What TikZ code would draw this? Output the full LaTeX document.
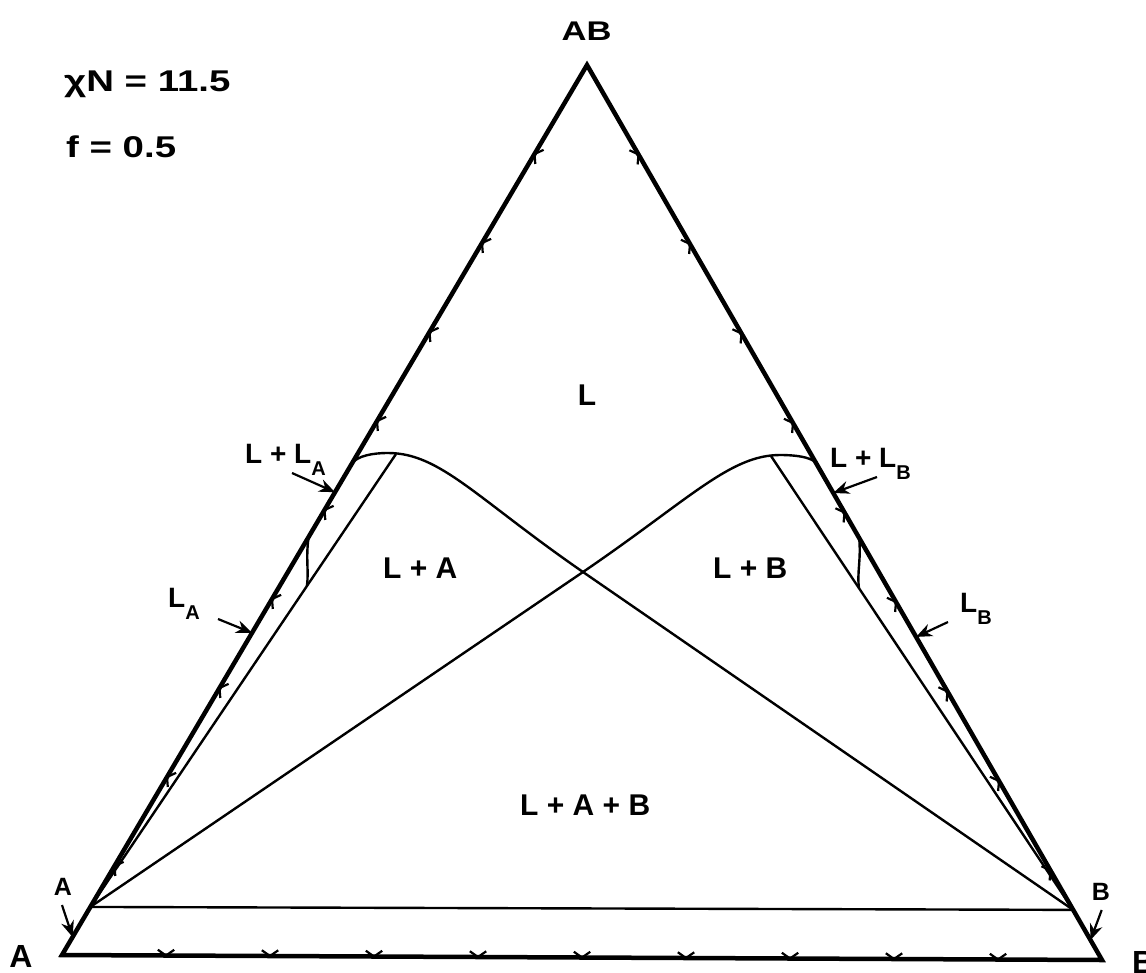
\documentclass[tikz,border=0pt]{standalone}
\usepackage{fontspec}
\setmainfont{Liberation Sans}
\newfontfamily\widefont[FakeStretch=1.28]{Liberation Sans}
\usetikzlibrary{calc,arrows.meta}
\newcommand\subl[1]{\raisebox{-12pt}{\fontsize{20}{20}\selectfont #1}}
\begin{document}
\begin{tikzpicture}[x=1pt,y=-1pt,
  edge/.style={line width=4.5pt, line join=miter},
  bound/.style={line width=2.4pt},
  tickmark/.style={line width=2.2pt},
  ptr/.style={line width=2.2pt,-{Stealth[length=16pt,width=13pt]}},
  lab/.style={inner sep=0pt, font=\fontsize{30}{30}\selectfont\bfseries},
  sublab/.style={inner sep=0pt, font=\fontsize{28}{28}\selectfont\bfseries}
]
\useasboundingbox (0,0) rectangle (1146,972);
% vertices
\coordinate (A) at (62,955);
\coordinate (B) at (1102,960);
\coordinate (T) at (587,65);
\draw[edge] (A) -- (B) -- (T) -- cycle;
% ticks
\foreach \k in {1,...,9}{
  \coordinate (tk) at ($(A)!\k/10!(B)$);
  \draw[tickmark] ($(tk)!10pt!35:(B)$) -- (tk) -- ($(tk)!10pt!145:(B)$);
  \coordinate (tk) at ($(B)!\k/10!(T)$);
  \draw[tickmark] ($(tk)!10pt!35:(T)$) -- (tk) -- ($(tk)!10pt!145:(T)$);
  \coordinate (tk) at ($(T)!\k/10!(A)$);
  \draw[tickmark] ($(tk)!10pt!35:(A)$) -- (tk) -- ($(tk)!10pt!145:(A)$);
}
% inner points
\coordinate (Ap) at ($(A)!0.054!(T)$);
\coordinate (Bp) at ($(B)!0.056!(T)$);
\coordinate (X) at (583,572);
\coordinate (PkL) at (388,453);
\coordinate (PkR) at (780,455);
\coordinate (QL) at ($(A)!0.5528!(T)$);
\coordinate (QR) at ($(B)!0.5564!(T)$);
\coordinate (PL) at (396,454);
\coordinate (PR) at (771,456);
% boundaries
\draw[bound] (Ap) -- (Bp);
\draw[bound] (Bp) -- (X) .. controls (476,498) and (440,453) .. (PkL) .. controls (372,453) and (358,456) .. (QL);
\draw[bound] (Ap) -- (X) .. controls (690,499) and (730,455) .. (PkR) .. controls (796,455) and (809,457) .. (QR);
\draw[bound] (Ap) -- (PL);
\draw[bound] (Bp) -- (PR);
\coordinate (LAt) at ($(A)!0.4697!(T)$);
\coordinate (LAb) at ($(Ap)!0.7086!(PL)$);
\draw[bound] (LAt) .. controls +(-3,22) and +(2,-16) .. (LAb);
\coordinate (LBt) at ($(B)!0.4715!(T)$);
\coordinate (LBb) at ($(Bp)!0.709!(PR)$);
\draw[bound] (LBt) .. controls +(2,22) and +(-2,-16) .. (LBb);
% labels
\node[lab, anchor=base west] (chi) at (64,91) {\widefont\bfseries χN = 11.5};
\node[lab, anchor=base west] (fval) at (66,157) {\widefont\bfseries f = 0.5};
\node[lab, anchor=base, font=\fontsize{27}{27}\selectfont\widefont\bfseries] (tAB) at (586.5,40.7) {AB};
\node[lab, anchor=base] (tL) at (587,405) {L};
\node[lab, anchor=base west] (tLA) at (383,578) {L + A};
\node[lab, anchor=base west] (tLB) at (713,578) {L + B};
\node[lab, anchor=base west] (tLAB) at (520,815) {L + A + B};
\node[sublab, anchor=base west] (tLLA) at (245,463) {L + L\subl{A}};
\node[sublab, anchor=base west] (tLLB) at (830,467) {L + L\subl{B}};
\node[sublab, anchor=base west] (tLa) at (168,607) {L\subl{A}};
\node[sublab, anchor=base west] (tLb) at (960,612) {L\subl{B}};
\node[lab, font=\fontsize{25}{25}\selectfont\bfseries, anchor=base] (sA) at (63,895) {A};
\node[lab, font=\fontsize{25}{25}\selectfont\bfseries, anchor=base] (sB) at (1101,900) {B};
\node[lab, font=\fontsize{32}{32}\selectfont\bfseries, anchor=base] (bA) at (21,967) {A};
\node[lab, font=\fontsize{32}{32}\selectfont\bfseries, anchor=base west] (bB) at (1132,973) {B};
% arrows
\coordinate (laT) at (218,619);   \coordinate (laH) at ($(A)!0.362!(T)$);
\coordinate (llaT) at (292,473);  \coordinate (llaH) at ($(A)!0.52!(T)$);
\coordinate (llbT) at (877,477);  \coordinate (llbH) at ($(B)!0.5218!(T)$);
\coordinate (lbT) at (948,622);   \coordinate (lbH) at ($(B)!0.361!(T)$);
\coordinate (saT) at (62,905);    \coordinate (saH) at ($(A)!0.0202!(T)$);
\coordinate (sbT) at (1101.7,910);\coordinate (sbH) at ($(B)!0.0223!(T)$);
\draw[ptr] (laT) -- (laH);
\draw[ptr] (llaT) -- (llaH);
\draw[ptr] (llbT) -- (llbH);
\draw[ptr] (lbT) -- (lbH);
\draw[ptr] (saT) -- (saH);
\draw[ptr] (sbT) -- (sbH);
\end{tikzpicture}
\end{document}
